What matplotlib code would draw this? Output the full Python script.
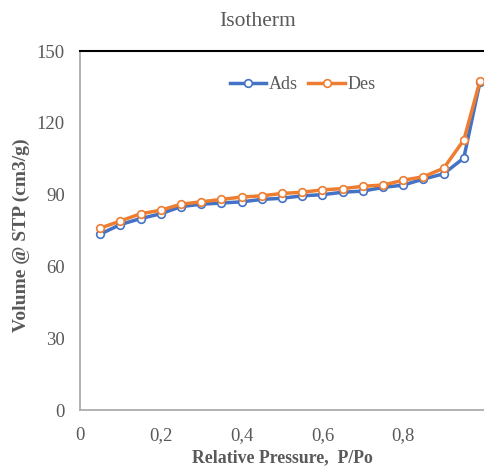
import matplotlib.pyplot as plt

plt.rcParams['font.family'] = ['Liberation Serif', 'DejaVu Serif']

p_rel = [0.05, 0.10, 0.15, 0.20, 0.25, 0.30, 0.35, 0.40, 0.45, 0.50,
         0.55, 0.60, 0.65, 0.70, 0.75, 0.80, 0.85, 0.90, 0.95, 0.99]
ads = [73.5, 77.5, 80.0, 82.0, 85.0, 86.0, 86.5, 87.0, 88.0, 88.5,
       89.5, 90.0, 91.0, 91.5, 93.0, 94.0, 96.5, 98.7, 105.3, 137.0]
des = [76.0, 79.0, 82.0, 83.5, 86.0, 87.0, 88.0, 89.0, 89.5, 90.5,
       91.0, 92.0, 92.5, 93.5, 94.0, 96.0, 97.5, 101.0, 112.8, 137.5]

xticks = [0, 0.2, 0.4, 0.6, 0.8]
xtick_labels = ['0', '0,2', '0,4', '0,6', '0,8']
yticks = [0, 30, 60, 90, 120, 150]

gray = '#595959'

fig = plt.figure(figsize=(4.84, 4.68), dpi=100)
ax = fig.add_axes([0.1653, 0.1239, 0.8347, 0.767])

ax.plot(p_rel, ads, color='#4472C4', lw=2.5, marker='o', ms=5.5,
        mfc='white', mec='#4472C4', mew=1.2, label='Ads')
ax.plot(p_rel, des, color='#ED7D31', lw=2.5, marker='o', ms=5.5,
        mfc='white', mec='#ED7D31', mew=1.2, label='Des')

ax.set_xlim(0, 1)
ax.set_ylim(0, 150)
ax.set_xticks(xticks)
ax.set_xticklabels(xtick_labels)
ax.set_yticks(yticks)
ax.tick_params(length=0, labelsize=13.5, colors=gray)
ax.tick_params(axis='x', pad=12)
ax.tick_params(axis='y', pad=11)

ax.spines['top'].set_color('black')
ax.spines['top'].set_linewidth(1.5)
ax.spines['right'].set_visible(False)
for s in ['left', 'bottom']:
    ax.spines[s].set_color('#A6A6A6')
    ax.spines[s].set_linewidth(1.2)

fig.text(258 / 484, 1 - 22 / 468, 'Isotherm', fontsize=15.5, color=gray,
         ha='center', va='center')
ax.set_xlabel('Relative Pressure,  P/Po', fontsize=12.8, fontweight='bold',
              color=gray, labelpad=4)
ax.set_ylabel('Volume @ STP (cm3/g)', fontsize=14, fontweight='bold',
              color=gray)
ax.yaxis.set_label_coords(-0.124, 0.4875)

leg = ax.legend(loc='upper center', bbox_to_anchor=(0.551, 0.975), ncol=2,
                frameon=False, fontsize=13, handlelength=2.0,
                columnspacing=0.6, handletextpad=0.15)
for t in leg.get_texts():
    t.set_color(gray)

fig.savefig('out.png', dpi=100)
